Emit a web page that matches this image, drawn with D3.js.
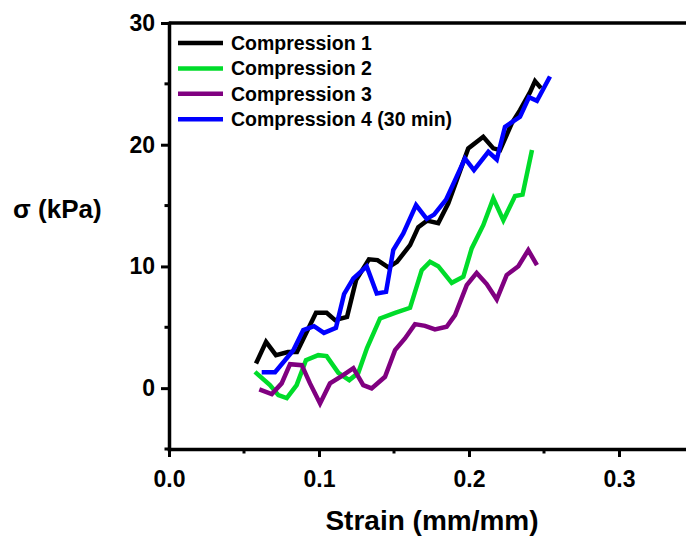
<!DOCTYPE html>
<html>
<head>
<meta charset="utf-8">
<script src="https://cdn.jsdelivr.net/npm/d3@7"></script>
<style>
  html, body { margin: 0; padding: 0; background: #fff; }
  svg { display: block; font-family: "Liberation Sans", Arial, sans-serif; font-weight: bold; }
</style>
</head>
<body>
<svg id="chart" width="686" height="538"></svg>
<script>
// Stress–strain curves for four successive compressions
const seriesNames = ["Compression 1", "Compression 2", "Compression 3", "Compression 4 (30 min)"];
const seriesColors = ["#000000", "#00dc2a", "#800080", "#0000ff"];

const strain1 = [0.058, 0.0647, 0.0713, 0.0793, 0.0853, 0.0917, 0.098, 0.1051, 0.1107, 0.1187, 0.1247, 0.1333, 0.139, 0.1462, 0.152, 0.1607, 0.1662, 0.172, 0.1795, 0.1862, 0.1918, 0.1995, 0.2095, 0.2162, 0.2207, 0.2285, 0.234, 0.2407, 0.244, 0.248];
const stress1 = [2.03, 3.80, 2.71, 2.96, 2.96, 4.60, 6.19, 6.19, 5.59, 5.86, 8.87, 10.58, 10.52, 9.92, 10.38, 11.75, 13.23, 13.76, 13.56, 15.18, 17.09, 19.70, 20.65, 19.70, 19.56, 21.75, 22.84, 24.32, 25.23, 24.65];

const strain2 = [0.0573, 0.0673, 0.0729, 0.0785, 0.0851, 0.0913, 0.0995, 0.1051, 0.1129, 0.1202, 0.1262, 0.132, 0.1407, 0.1507, 0.1607, 0.1685, 0.174, 0.1795, 0.1885, 0.1962, 0.2018, 0.2095, 0.2162, 0.2229, 0.2307, 0.2357, 0.242];
const stress2 = [1.34, 0.25, -0.58, -0.82, 0.25, 2.30, 2.71, 2.63, 1.26, 0.66, 1.26, 3.29, 5.73, 6.19, 6.60, 9.70, 10.38, 10.02, 8.65, 9.15, 11.48, 13.39, 15.59, 13.80, 15.78, 15.90, 19.56];

const strain3 = [0.0602, 0.0685, 0.0751, 0.0807, 0.0885, 0.094, 0.1007, 0.1073, 0.1151, 0.1229, 0.1295, 0.1351, 0.144, 0.1507, 0.1573, 0.164, 0.1707, 0.1773, 0.1851, 0.1907, 0.1985, 0.2051, 0.2118, 0.2185, 0.2251, 0.2329, 0.2395, 0.2453];
const stress3 = [-0.11, -0.49, 0.39, 1.97, 1.89, 0.39, -1.26, 0.39, 0.99, 1.64, 0.25, -0.02, 0.93, 3.12, 4.08, 5.26, 5.12, 4.82, 5.04, 6.00, 8.46, 9.47, 8.55, 7.29, 9.29, 10.02, 11.34, 10.11];

const strain4 = [0.0618, 0.0707, 0.0829, 0.0895, 0.0967, 0.1033, 0.1113, 0.1167, 0.1229, 0.1318, 0.1385, 0.1447, 0.1495, 0.1562, 0.1647, 0.1718, 0.1767, 0.1847, 0.1907, 0.1973, 0.2033, 0.2129, 0.2185, 0.224, 0.234, 0.24, 0.2453, 0.254];
const stress4 = [1.31, 1.31, 3.12, 4.77, 5.09, 4.54, 4.95, 7.72, 9.01, 10.00, 7.78, 7.91, 11.34, 12.71, 15.04, 13.91, 14.26, 15.49, 17.09, 18.87, 17.91, 19.42, 18.79, 21.47, 22.29, 23.90, 23.60, 25.60];

const xMajorTicks = [0, 0.1, 0.2, 0.3];
const xMinorTicks = [0.05, 0.15, 0.25];
const yMajorTicks = [0, 10, 20, 30];
const yMinorTicks = [-5, 5, 15, 25];

const strains = [strain1, strain2, strain3, strain4];
const stresses = [stress1, stress2, stress3, stress4];

const svg = d3.select("#chart");
const plotLeft = 169, plotRight = 694, plotTop = 23, plotBottom = 449;

const x = d3.scaleLinear().domain([0, 0.35]).range([plotLeft, plotRight]);
const y = d3.scaleLinear().domain([-5, 30]).range([plotBottom, plotTop]);

// Frame: top and right edges
svg.append("line").attr("x1", plotLeft).attr("x2", plotRight).attr("y1", plotTop).attr("y2", plotTop)
  .attr("stroke", "#000").attr("stroke-width", 3.5);
svg.append("line").attr("x1", plotRight).attr("x2", plotRight).attr("y1", plotTop).attr("y2", plotBottom)
  .attr("stroke", "#000").attr("stroke-width", 3.5);

// Bottom axis
const xAxis = svg.append("g").attr("transform", `translate(0,${plotBottom})`)
  .call(d3.axisBottom(x).tickValues(xMajorTicks).tickFormat(d3.format(".1f")).tickSizeInner(8).tickSizeOuter(0).tickPadding(14));
xAxis.append("g").selectAll("line").data(xMinorTicks).join("line")
  .attr("x1", d => x(d)).attr("x2", d => x(d)).attr("y1", 0).attr("y2", 4.5)
  .attr("stroke", "#000").attr("stroke-width", 3);

// Left axis
const yAxis = svg.append("g").attr("transform", `translate(${plotLeft},0)`)
  .call(d3.axisLeft(y).tickValues(yMajorTicks).tickFormat(d3.format("d")).tickSizeInner(8).tickSizeOuter(0).tickPadding(6));
yAxis.append("g").selectAll("line").data(yMinorTicks).join("line")
  .attr("x1", 0).attr("x2", -4.5).attr("y1", d => y(d)).attr("y2", d => y(d))
  .attr("stroke", "#000").attr("stroke-width", 3);

[xAxis, yAxis].forEach(g => {
  g.select(".domain").attr("stroke-width", 3.5).attr("stroke-linecap", "square");
  g.selectAll(".tick line").attr("stroke-width", 3);
  g.selectAll(".tick text").attr("font-size", 23).attr("font-weight", "bold")
    .attr("font-family", "'Liberation Sans', Arial, sans-serif").attr("fill", "#000");
});

// Axis titles
svg.append("text").attr("x", 432).attr("y", 530).attr("text-anchor", "middle")
  .attr("font-size", 28).text("Strain (mm/mm)");
svg.append("text").attr("x", 13).attr("y", 218).attr("text-anchor", "start")
  .attr("font-size", 26).text("σ (kPa)");

// Curves
const line = d3.line().x(d => x(d[0])).y(d => y(d[1]));
strains.forEach((s, i) => {
  const pts = s.map((v, j) => [v, stresses[i][j]]);
  svg.append("path").datum(pts).attr("d", line)
    .attr("fill", "none").attr("stroke", seriesColors[i])
    .attr("stroke-width", 4.5).attr("stroke-linejoin", "miter").attr("stroke-miterlimit", 3);
});

// Legend
const legend = svg.append("g");
seriesNames.forEach((name, i) => {
  const ly = 43 + i * 25.4;
  legend.append("line").attr("x1", 178).attr("x2", 223).attr("y1", ly).attr("y2", ly)
    .attr("stroke", seriesColors[i]).attr("stroke-width", 4.5);
  legend.append("text").attr("x", 231).attr("y", ly).attr("dy", "0.36em")
    .attr("font-size", 19.5).text(name);
});
</script>
</body>
</html>
